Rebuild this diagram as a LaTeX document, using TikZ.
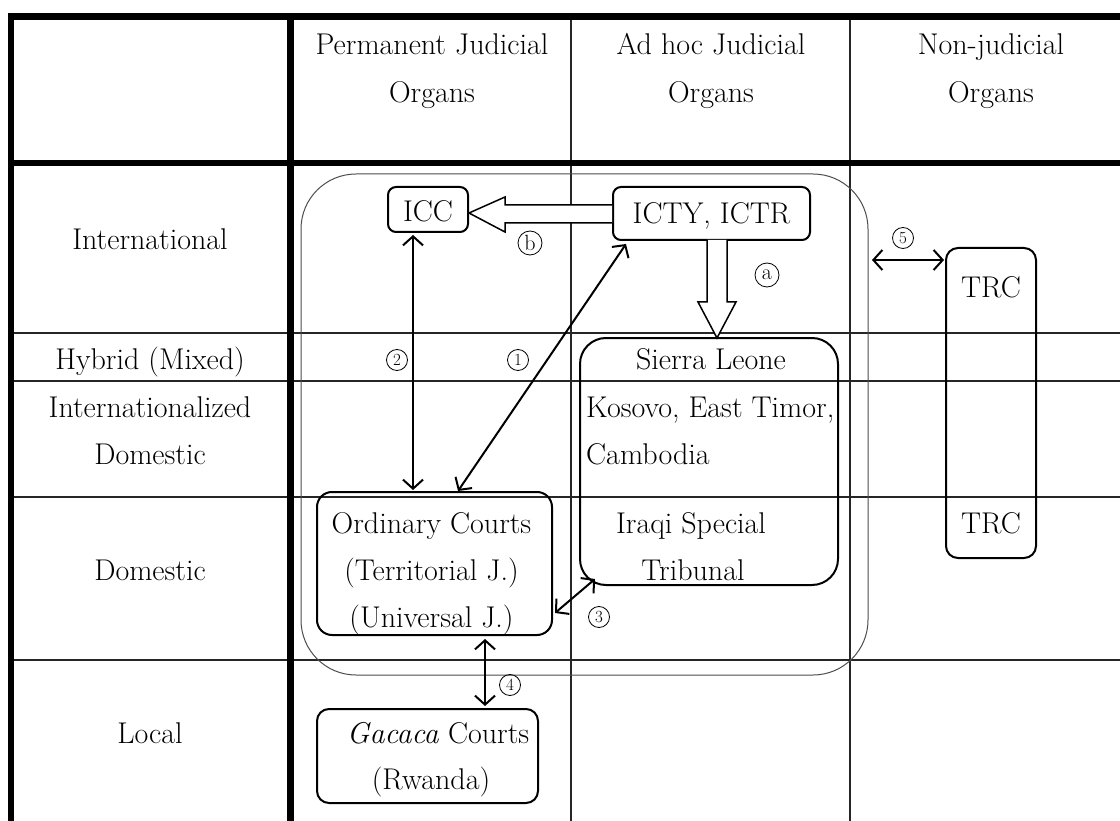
\documentclass[tikz,border=0pt]{standalone}
\usetikzlibrary{arrows.meta}
\begin{document}
\begin{tikzpicture}[x=1pt,y=-1pt,
  every node/.style={font=\fontsize{30}{34}\selectfont, inner sep=0pt, text=black, text height=22.5pt, text depth=2.5pt},
  thickrule/.style={line width=6.5pt, line cap=rect},
  thinrule/.style={line width=1.1pt, black!85},
  boxst/.style={draw, line width=2pt, rounded corners=#1},
  boxst/.default=12pt,
  dbl/.style={{Straight Barb[length=9pt,width=20pt,line width=2pt]}-{Straight Barb[length=9pt,width=20pt,line width=2pt]}, line width=2pt},
  hollow/.style={draw, fill=white, line width=1.5pt, line join=miter},
  circlbl/.style={circle, draw, line width=0.8pt, minimum size=#1, inner sep=0pt, text height=, text depth=, font=\fontsize{17}{17}\selectfont},
  circlbl/.default=21pt
]
\useasboundingbox (0,0) rectangle (1120,821);
\clip (0,0) rectangle (1120,821);

% thin grid lines
\draw[thinrule] (571,16) -- (571,821);
\draw[thinrule] (850,16) -- (850,821);
\foreach \yy in {333,381,497,660} \draw[thinrule] (11,\yy) -- (1125,\yy);

% thick rules
\draw[thickrule] (11,16.5) -- (1130,16.5);
\draw[thickrule] (11,16.5) -- (11,830);
\draw[thickrule] (290.5,16.5) -- (290.5,830);
\draw[thickrule] (11,163) -- (1130,163);

% header texts
\node (h1a) at (432,45) {Permanent Judicial};
\node (h1b) at (432,93) {Organs};
\node (h2a) at (711,45) {Ad hoc Judicial};
\node (h2b) at (711,93) {Organs};
\node (h3a) at (991,45) {Non-judicial};
\node (h3b) at (991,93) {Organs};

% row labels
\node (r1) at (150,240) {International};
\node (r2) at (150,360) {Hybrid (Mixed)};
\node (r3a) at (150,407) {Internationalized};
\node (r3b) at (150,454) {Domestic};
\node (r4) at (150,570) {Domestic};
\node (r5) at (150,733) {Local};

% large enclosing rounded rectangle
\draw[line width=1pt, black!70, rounded corners=55pt] (301,174) rectangle (868,675);

% boxes
\node[boxst=8pt, minimum width=80pt, minimum height=45pt] (icc) at (428,209.5) {};
\node (icctxt) at (428,212) {ICC};
\node[boxst=8pt, minimum width=197pt, minimum height=53pt] (icty) at (711.5,213.5) {};
\node (ictytxt) at (711.5,214) {ICTY, ICTR};

\node[boxst=26pt, minimum width=258pt, minimum height=247pt] (sl) at (709,461.5) {};
\node (sltxt) at (711,360) {Sierra Leone};
\node[anchor=west] (kos) at (586,407) {Kosovo, East Timor,};
\node[anchor=west] (cam) at (586,454) {Cambodia};
\node (iraq1) at (691,523) {Iraqi Special};
\node (iraq2) at (693,570) {Tribunal};

\node[boxst=15pt, minimum width=235pt, minimum height=143pt] (oc) at (434.5,563.5) {};
\node (oc1) at (431.5,523) {Ordinary Courts};
\node (oc2) at (431.5,570) {(Territorial J.)};
\node (oc3) at (431.5,617) {(Universal J.)};

\node[boxst=12pt, minimum width=221pt, minimum height=94pt] (gac) at (427.5,756) {};
\node (gac1) at (438,733) {\textit{Gacaca} Courts};
\node (gac2) at (431,779) {(Rwanda)};

\node[boxst=12pt, minimum width=90pt, minimum height=310pt] (trc) at (991,403) {};
\node (trc1) at (991,288) {TRC};
\node (trc2) at (991,523) {TRC};

% hollow arrows
\draw[hollow] (icty.west |- 0,205) -- (505,205) -- (505,197) -- (icc.east |- 0,213) -- (505,232) -- (505,223) -- (icty.west |- 0,223);
\draw[hollow] (707,240) -- (707,302) -- (698,302) -- (717,338) -- (736,302) -- (727,302) -- (727,240);

% double-headed arrows
\coordinate (a2t) at (413,235);
\coordinate (a2b) at (413,490);
\draw[dbl] (a2t) -- (a2b);
\coordinate (a1t) at (626,244);
\coordinate (a1b) at (458,491);
\draw[dbl] (a1t) -- (a1b);
\coordinate (a3a) at (555,613);
\coordinate (a3b) at (595,579);
\draw[dbl] (a3a) -- (a3b);
\coordinate (a4t) at (485,639);
\coordinate (a4b) at (485,706);
\draw[dbl] (a4t) -- (a4b);
\coordinate (a5l) at (872,260);
\coordinate (a5r) at (944,260);
\draw[dbl] (a5l) -- (a5r);

% circled labels
\node[circlbl=24pt, font=\fontsize{22}{22}\selectfont] (lb) at (530,243) {b};
\node[circlbl=24pt, font=\fontsize{22}{22}\selectfont] (la) at (767,275) {a};
\node[circlbl] (l1) at (518,360) {1};
\node[circlbl] (l2) at (397,360) {2};
\node[circlbl] (l3) at (599,617) {3};
\node[circlbl] (l4) at (510,685) {4};
\node[circlbl] (l5) at (903,238) {5};
\end{tikzpicture}
\end{document}
